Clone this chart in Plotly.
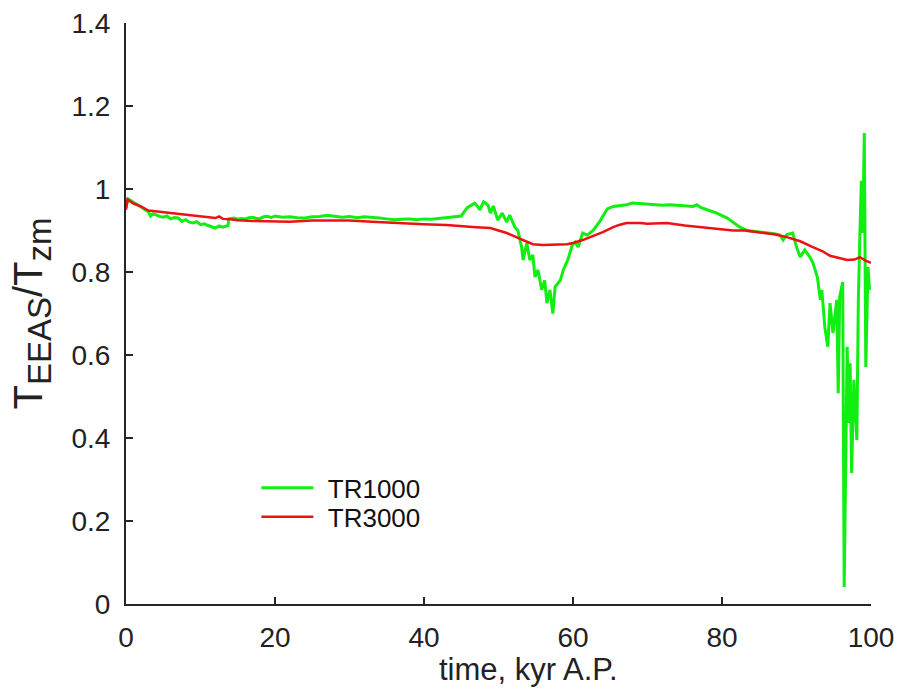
import plotly.graph_objects as go

# TR1000 (green)
t_green = [0.0, 0.3, 1, 1.5, 2, 2.5, 3, 3.3, 3.6, 4, 4.5, 5, 5.5, 6, 6.5, 7, 7.5, 8, 8.5, 9, 9.5,
           10, 10.5, 11, 11.5, 12, 12.5, 13, 13.7, 13.8,
           14.5, 15, 15.5, 16, 16.5, 17, 17.5, 18, 18.5, 19, 19.5, 20, 21, 22, 23, 24, 25, 26,
           27, 28, 29, 30, 31, 32, 33, 34, 35, 36, 37, 38, 39, 40, 41, 42, 43, 44, 45, 45.8,
           46.4, 46.8, 47.2, 47.5, 48, 48.6, 48.9, 49.3, 49.9, 50.5, 51.1, 51.5, 52.2, 52.6,
           53.1, 53.3, 53.8, 54.2, 54.6, 54.9, 55.3, 55.8, 56.2, 56.5, 56.9, 57.3, 57.6, 58.3,
           58.7, 59.3, 59.9, 60.3, 60.7, 61.3, 61.9, 62.7, 63.6, 64.6, 65.4, 66.3, 67.2, 68, 69,
           70.3, 71, 72, 73, 74, 75, 76.1, 76.6, 77.2, 78, 79.3, 80.7, 81.5, 82.4, 83.4, 84.5,
           85.5, 86, 87, 87.8, 88.2, 88.7, 89.5, 90, 90.5, 91.1, 91.8, 92.2, 92.8, 93.2, 93.4,
           93.8, 94.2, 94.5, 94.9, 95.4, 95.6, 95.8, 96.2, 96.4, 96.8, 97.0, 97.2, 97.4, 97.7,
           98.1, 98.3, 98.5, 98.7, 98.9, 99.1, 99.3, 99.6, 99.8]
v_green = [0.955, 0.976, 0.968, 0.962, 0.955, 0.950, 0.945, 0.935, 0.940, 0.938, 0.934, 0.932,
           0.935, 0.928, 0.931, 0.930, 0.922, 0.926, 0.920, 0.918, 0.921, 0.914, 0.916, 0.912,
           0.909, 0.906, 0.911, 0.908, 0.912, 0.928,
           0.930, 0.927, 0.929, 0.928, 0.931, 0.932, 0.929, 0.929, 0.933, 0.934, 0.931, 0.935,
           0.932, 0.933, 0.931, 0.930, 0.933, 0.934, 0.937, 0.934, 0.932, 0.934, 0.931, 0.933,
           0.932, 0.930, 0.928, 0.926, 0.927, 0.928, 0.926, 0.928, 0.927, 0.929, 0.930, 0.932,
           0.935, 0.955, 0.961, 0.966, 0.958, 0.950, 0.969, 0.961, 0.942, 0.959, 0.925, 0.942,
           0.920, 0.937, 0.908, 0.900, 0.860, 0.829, 0.870, 0.829, 0.841, 0.788, 0.805, 0.757,
           0.780, 0.725, 0.757, 0.700, 0.764, 0.780, 0.805, 0.829, 0.865, 0.872, 0.860, 0.894,
           0.889, 0.900, 0.922, 0.952, 0.958, 0.960, 0.962, 0.966, 0.965, 0.962, 0.963, 0.961,
           0.962, 0.961, 0.960, 0.958, 0.962, 0.955, 0.950, 0.942, 0.930, 0.920, 0.908, 0.900,
           0.898, 0.895, 0.894, 0.892, 0.889, 0.877, 0.890, 0.894, 0.860, 0.836, 0.853, 0.836,
           0.822, 0.788, 0.733, 0.757, 0.667, 0.620, 0.725, 0.653, 0.733, 0.508, 0.740, 0.776,
           0.041, 0.620, 0.436, 0.580, 0.316, 0.540, 0.395, 0.733, 0.884, 1.020, 0.894, 1.135,
           0.571, 0.812, 0.757]

# TR3000 (red)
t_red = [0, 0.2, 1, 2, 3, 4, 5, 6, 7, 8, 9, 10, 11, 12, 12.5, 13, 14, 15, 17, 20, 22, 25, 28,
         30, 33, 36, 40, 43, 45, 47, 48.9, 50, 51.1, 52, 52.9, 54, 54.6, 56, 57, 58, 59.2, 60,
         61.3, 62, 63.2, 64, 65.4, 66.3, 67.2, 69, 70, 72.6, 75, 77, 79, 81.5, 83, 85.1, 87,
         88.7, 90.5, 92.2, 93.5, 94.5, 96, 96.8, 97.8, 98.5, 99.2, 100]
v_red = [0.950, 0.975, 0.965, 0.958, 0.948, 0.946, 0.945, 0.943, 0.940, 0.938, 0.937, 0.934,
         0.933, 0.930, 0.934, 0.928, 0.927, 0.925, 0.923, 0.922, 0.921, 0.924, 0.925, 0.924,
         0.921, 0.918, 0.915, 0.913, 0.910, 0.908, 0.906, 0.900, 0.894, 0.887, 0.880, 0.872,
         0.867, 0.865, 0.865, 0.866, 0.867, 0.870, 0.877, 0.882, 0.889, 0.896, 0.908, 0.914,
         0.918, 0.918, 0.916, 0.918, 0.912, 0.908, 0.905, 0.900, 0.900, 0.896, 0.891, 0.884,
         0.874, 0.860, 0.850, 0.839, 0.832, 0.829, 0.830, 0.836, 0.828, 0.822]

FONT = "Liberation Sans"
AX = "#262626"
GAP = "\u00a0\u200a"

fig = go.Figure()
fig.add_trace(go.Scatter(x=t_green, y=v_green, mode="lines", name=GAP + "TR1000",
                         line=dict(color="#11ee11", width=3), legend="legend"))
fig.add_trace(go.Scatter(x=t_red, y=v_red, mode="lines", name=GAP + "TR3000",
                         line=dict(color="#ee1111", width=2.5), legend="legend2"))

leg = dict(xanchor="left", yanchor="middle", bgcolor="rgba(0,0,0,0)",
           font=dict(size=26, color="#111111"), itemwidth=52)

ytitle = ("T<sub><span style='font-size:33px'>EEAS</span></sub>"
          "/T<sub><span style='font-size:33px'>zm</span></sub>")

fig.update_layout(
    width=902, height=694,
    margin=dict(l=126, r=31, t=23, b=90),
    paper_bgcolor="white", plot_bgcolor="white",
    font=dict(family=FONT, size=28, color="#222222"),
    showlegend=True,
    legend=dict(x=0.175, y=0.2, **leg),
    legend2=dict(x=0.175, y=0.15, **leg),
    xaxis=dict(range=[0, 100], tickvals=[0, 20, 40, 60, 80, 100], ticks="inside",
               ticklen=7, tickwidth=2, tickcolor=AX, showline=True, linecolor=AX,
               linewidth=2, showgrid=False, zeroline=False, automargin=False,
               ticklabelstandoff=7),
    yaxis=dict(range=[0, 1.4], tickvals=[0, 0.2, 0.4, 0.6, 0.8, 1, 1.2, 1.4],
               ticktext=["0", "0.2", "0.4", "0.6", "0.8", "1", "1.2", "1.4"],
               ticks="inside", ticklen=7, tickwidth=2, tickcolor=AX, showline=True,
               linecolor=AX, linewidth=2, showgrid=False, zeroline=False, automargin=False,
               ticklabelstandoff=8,
               title=dict(text=ytitle, font=dict(size=40), standoff=16)),
    annotations=[dict(text="time, kyr A.P.", xref="paper", yref="paper",
                      x=0.54, y=-0.113, xanchor="center", yanchor="middle",
                      showarrow=False, font=dict(size=31))],
)

fig.write_html("out.html")
